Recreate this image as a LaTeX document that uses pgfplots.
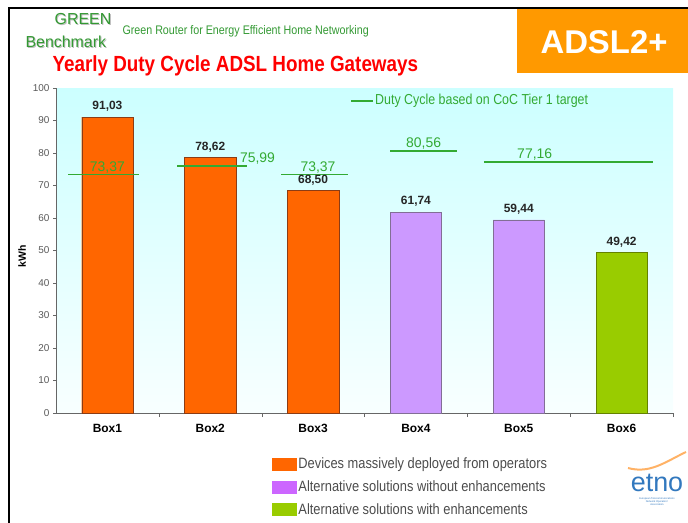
\documentclass[border=0pt]{standalone}
\usepackage{pgfplots}
\pgfplotsset{compat=1.18}
\usepackage{fontspec}
\setmainfont{Liberation Sans}
\newfontfamily\narrow{Liberation Sans}[FakeStretch=0.86]
\definecolor{boxorange}{RGB}{255,102,0}
\definecolor{boxorangeedge}{RGB}{140,60,20}
\definecolor{boxpurple}{RGB}{204,153,255}
\definecolor{boxpurpleedge}{RGB}{130,110,150}
\definecolor{legpurple}{RGB}{204,102,255}
\definecolor{boxgreen}{RGB}{153,204,0}
\definecolor{boxgreenedge}{RGB}{100,130,0}
\definecolor{tgreen}{RGB}{51,170,51}
\definecolor{hgreen}{RGB}{51,153,51}
\definecolor{bgtop}{RGB}{204,255,255}
\definecolor{bgbot}{RGB}{248,255,255}
\definecolor{adsl}{RGB}{255,153,0}
\definecolor{etnoblue}{RGB}{50,120,190}
\begin{document}
\begin{tikzpicture}[x=1bp,y=-1bp]
\path[use as bounding box] (0,0) rectangle (688,523);
% frame
\draw[line width=1.6bp] (9,523) -- (9,8) -- (688,8);
% header
\fill[adsl] (517,9) rectangle (688,73);
\node[text=white, font=\bfseries\fontsize{33}{33}\selectfont] at (604,42) {ADSL2+};
\node[text=gray!50, font=\fontsize{16}{16}\selectfont] at (84,20) {GREEN};
\node[text=hgreen, font=\fontsize{16}{16}\selectfont] at (83,19) {GREEN};
\node[anchor=west, text=gray!50, font=\fontsize{16}{16}\selectfont] at (23,43) {Benchmark};
\node[anchor=west, text=hgreen, font=\fontsize{16}{16}\selectfont] at (22,42) {Benchmark};
\node[anchor=west, text=hgreen, font=\narrow\fontsize{12.5}{13}\selectfont] at (119,31) {Green Router for Energy Efficient Home Networking};
\node[anchor=west, text=red, font=\narrow\bfseries\fontsize{22}{22}\selectfont] at (49,66) {Yearly Duty Cycle ADSL Home Gateways};
% y label
\node[rotate=90, font=\bfseries\fontsize{10.5}{10.5}\selectfont] at (22,256) {kWh};
\begin{axis}[
  at={(56bp,-413bp)}, anchor=south west,
  scale only axis, width=617bp, height=325bp,
  xmin=-0.5, xmax=5.5, ymin=0, ymax=100,
  axis lines=left, axis line style={-, draw=gray!80!black},
  axis background/.style={top color=bgtop, bottom color=bgbot},
  ybar, bar width=0.5, bar shift=0pt,
  xtick={0,1,2,3,4,5}, xticklabels={Box1,Box2,Box3,Box4,Box5,Box6},
  major x tick style={draw=none},
  minor xtick={0.5,1.5,2.5,3.5,4.5,5.5},
  minor tick length=4bp,
  tick align=outside, major tick length=3bp,
  tick style={gray!80!black},
  ytick={0,10,...,100},
  yticklabel style={text=gray!70!black, font=\fontsize{10}{10}\selectfont},
  xticklabel style={font=\bfseries\fontsize{12}{12}\selectfont, yshift=-5bp},
  /pgf/number format/assume math mode=true,
  nodes near coords,
  nodes near coords style={font=\bfseries\fontsize{12}{12}\selectfont, text=black!85, yshift=2bp,
    /pgf/number format/fixed, /pgf/number format/fixed zerofill, /pgf/number format/precision=2, /pgf/number format/use comma},
  legend style={at={(0.345,-0.125)}, anchor=north west, draw=none, fill=none,
    font=\narrow\fontsize{15}{15}\selectfont, text=gray!60!black, row sep=6.5bp,
    /tikz/every even column/.append style={column sep=2bp}},
  legend cell align=left,
  clip=false,
]
\addplot[fill=boxorange, draw=boxorangeedge, legend image code/.code={\fill[boxorange] (0bp,-6bp) rectangle (24bp,6bp);}] coordinates {(0,91.03) (1,78.62) (2,68.50)};
\addlegendentry{Devices massively deployed from operators}
\addplot[fill=boxpurple, draw=boxpurpleedge, legend image code/.code={\fill[legpurple] (0bp,-6bp) rectangle (24bp,6bp);}] coordinates {(3,61.74) (4,59.44)};
\addlegendentry{Alternative solutions without enhancements}
\addplot[fill=boxgreen, draw=boxgreenedge, legend image code/.code={\fill[boxgreen] (0bp,-6bp) rectangle (24bp,6bp);}] coordinates {(5,49.42)};
\addlegendentry{Alternative solutions with enhancements}
% target lines
\addplot[sharp plot, nodes near coords={}, tgreen, line width=1.5bp, forget plot] coordinates {(-0.38,73.37) (0.31,73.37)}
  node[pos=0.55, above, inner sep=1bp, font=\fontsize{14}{14}\selectfont, text=tgreen] {73,37};
\addplot[sharp plot, nodes near coords={}, tgreen, line width=1.5bp, forget plot] coordinates {(0.68,75.99) (1.36,75.99)}
  node[pos=1, anchor=south west, xshift=-9bp, inner sep=1bp, font=\fontsize{14}{14}\selectfont, text=tgreen] {75,99};
\addplot[sharp plot, nodes near coords={}, tgreen, line width=1.5bp, forget plot] coordinates {(1.69,73.37) (2.34,73.37)}
  node[pos=0.55, above, inner sep=1bp, font=\fontsize{14}{14}\selectfont, text=tgreen] {73,37};
\addplot[sharp plot, nodes near coords={}, tgreen, line width=1.5bp, forget plot] coordinates {(2.75,80.56) (3.40,80.56)}
  node[pos=0.5, above, inner sep=1.5bp, font=\fontsize{14}{14}\selectfont, text=tgreen] {80,56};
\addplot[sharp plot, nodes near coords={}, tgreen, line width=1.5bp, forget plot] coordinates {(3.66,77.16) (5.31,77.16)}
  node[pos=0.3, above, inner sep=1.5bp, font=\fontsize{14}{14}\selectfont, text=tgreen] {77,16};
\end{axis}
% top legend (line)
\draw[tgreen, line width=1.5bp] (351,101) -- (373,101);
\node[anchor=west, text=tgreen, font=\narrow\fontsize{14.5}{14.5}\selectfont, inner sep=1bp] at (374,101) {Duty Cycle based on CoC Tier 1 target};
% etno logo
\draw[orange!60, line width=2bp] (628,468) .. controls (650,474) and (665,462) .. (686,452);
\node[text=etnoblue, font=\fontsize{27}{27}\selectfont] at (657,483) {etno};
\node[text=etnoblue, font=\fontsize{2.6}{3}\selectfont, align=center] at (657,502) {European Telecommunications\\Network Operators'\\Association};
\end{tikzpicture}
\end{document}
